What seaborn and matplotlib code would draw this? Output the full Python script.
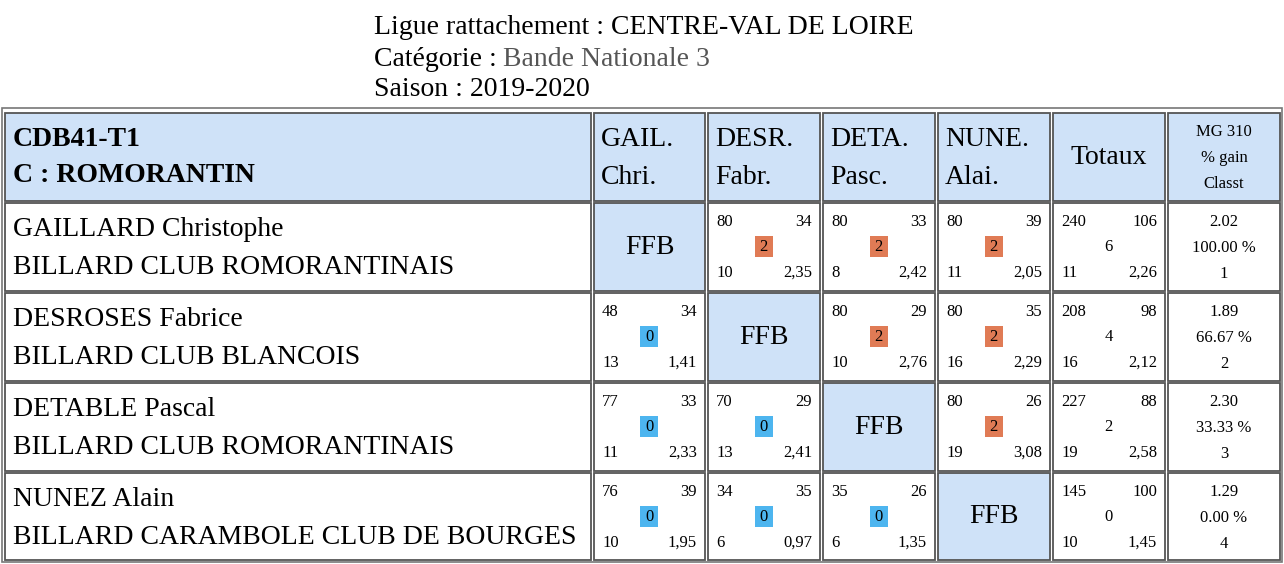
import matplotlib
matplotlib.use("Agg")
import matplotlib.pyplot as plt
from matplotlib.patches import Rectangle
import seaborn as sns

sns.set_theme(style="white")
plt.rcParams["font.family"] = "Liberation Serif"
plt.rcParams["text.color"] = "black"

title_lines = ["Ligue rattachement : CENTRE-VAL DE LOIRE", "Catégorie : ", "Saison : 2019-2020"]
categorie = "Bande Nationale 3"
team_line1 = "CDB41-T1"
team_line2 = "C : ROMORANTIN"
col_heads = [("GAIL.", "Chri."), ("DESR.", "Fabr."), ("DETA.", "Pasc."), ("NUNE.", "Alai.")]
players = ["GAILLARD Christophe", "DESROSES Fabrice", "DETABLE Pascal", "NUNEZ Alain"]
clubs = ["BILLARD CLUB ROMORANTINAIS", "BILLARD CLUB BLANCOIS",
         "BILLARD CLUB ROMORANTINAIS", "BILLARD CARAMBOLE CLUB DE BOURGES"]
# match cells: (points, reprises, match points, series, moyenne) ; None = FFB diagonal
matches = [
    [None, (80, 34, 2, 10, "2,35"), (80, 33, 2, 8, "2,42"), (80, 39, 2, 11, "2,05")],
    [(48, 34, 0, 13, "1,41"), None, (80, 29, 2, 10, "2,76"), (80, 35, 2, 16, "2,29")],
    [(77, 33, 0, 11, "2,33"), (70, 29, 0, 13, "2,41"), None, (80, 26, 2, 19, "3,08")],
    [(76, 39, 0, 10, "1,95"), (34, 35, 0, 6, "0,97"), (35, 26, 0, 6, "1,35"), None],
]
totals = [(240, 106, 6, 11, "2,26"), (208, 98, 4, 16, "2,12"),
          (227, 88, 2, 19, "2,58"), (145, 100, 0, 10, "1,45")]
mg = ["2.02", "1.89", "2.30", "1.29"]
gain = ["100.00 %", "66.67 %", "33.33 %", "0.00 %"]
classt = ["1", "2", "3", "4"]

W, H = 1284, 564
fig = plt.figure(figsize=(W / 100, H / 100), dpi=100)
ax = fig.add_axes([0, 0, 1, 1])
ax.set_xlim(0, W)
ax.set_ylim(H, 0)
ax.axis("off")

BLUE = "#cfe2f8"
EDGE = "#555555"
ORANGE = "#e07b55"
BADGE_BLUE = "#4db5ef"
BIG = 20
SMALL = 12

# title
ax.text(374, 27, title_lines[0], fontsize=BIG, va="center", ha="left")
ax.text(374, 59, title_lines[1], fontsize=BIG, va="center", ha="left")
ax.text(503, 59, categorie, fontsize=BIG, va="center", ha="left", color="#555555")
ax.text(374, 90, title_lines[2], fontsize=BIG, va="center", ha="left")

# outer border
ax.add_patch(Rectangle((2, 108), 1280, 454, fill=False, ec="#777777", lw=1.2))

cols = [(5, 591), (594, 705), (708, 820), (823, 935), (938, 1050), (1053, 1165), (1168, 1280)]
rows = [(113, 201), (203, 291), (293, 381), (383, 471), (473, 560)]

def cell(c, r, fill):
    x0, x1 = cols[c]
    y0, y1 = rows[r]
    ax.add_patch(Rectangle((x0, y0), x1 - x0, y1 - y0, fc=fill, ec=EDGE, lw=1.3))
    return x0, x1, y0, y1

# header row
x0, x1, y0, y1 = cell(0, 0, BLUE)
ax.text(x0 + 8, 139, team_line1, fontsize=BIG, weight="bold", va="center")
ax.text(x0 + 8, 176, team_line2, fontsize=BIG, weight="bold", va="center")
for i, (a, b) in enumerate(col_heads):
    x0, x1, y0, y1 = cell(i + 1, 0, BLUE)
    ax.text(x0 + 7, 140, a, fontsize=BIG, va="center")
    ax.text(x0 + 7, 177, b, fontsize=BIG, va="center")
x0, x1, y0, y1 = cell(5, 0, BLUE)
ax.text((x0 + x1) / 2, 157, "Totaux", fontsize=BIG, va="center", ha="center")
x0, x1, y0, y1 = cell(6, 0, BLUE)
for yy, s in zip([132, 158, 184], ["MG 310", "% gain", "Classt"]):
    ax.text((x0 + x1) / 2, yy, s, fontsize=SMALL, va="center", ha="center")

def stats_cell(x0, x1, y0, vals, badge):
    p, r, m, s, moy = vals
    ax.text(x0 + 8, y0 + 19, str(p), fontsize=SMALL, va="center")
    ax.text(x1 - 8, y0 + 19, str(r), fontsize=SMALL, va="center", ha="right")
    ax.text(x0 + 8, y0 + 70, str(s), fontsize=SMALL, va="center")
    ax.text(x1 - 8, y0 + 70, moy, fontsize=SMALL, va="center", ha="right")
    cx = (x0 + x1) / 2 - 0.5
    if badge:
        col = ORANGE if m > 0 else BADGE_BLUE
        ax.add_patch(Rectangle((cx - 9, y0 + 33), 18, 21, fc=col, ec="none"))
    ax.text(cx, y0 + 44, str(m), fontsize=SMALL, va="center", ha="center")

for i in range(4):
    r = i + 1
    x0, x1, y0, y1 = cell(0, r, "white")
    ax.text(x0 + 8, y0 + 27, players[i], fontsize=BIG, va="center")
    ax.text(x0 + 8, y0 + 64, clubs[i], fontsize=BIG, va="center")
    for j in range(4):
        v = matches[i][j]
        x0, x1, y0, y1 = cell(j + 1, r, BLUE if v is None else "white")
        if v is None:
            ax.text((x0 + x1) / 2, (y0 + y1) / 2, "FFB", fontsize=BIG, va="center", ha="center")
        else:
            stats_cell(x0, x1, y0, v, True)
    x0, x1, y0, y1 = cell(5, r, "white")
    stats_cell(x0, x1, y0, totals[i], False)
    x0, x1, y0, y1 = cell(6, r, "white")
    for yy, s in zip([19, 45, 71], [mg[i], gain[i], classt[i]]):
        ax.text((x0 + x1) / 2, y0 + yy, s, fontsize=SMALL, va="center", ha="center")

fig.savefig("out.png", dpi=100)
